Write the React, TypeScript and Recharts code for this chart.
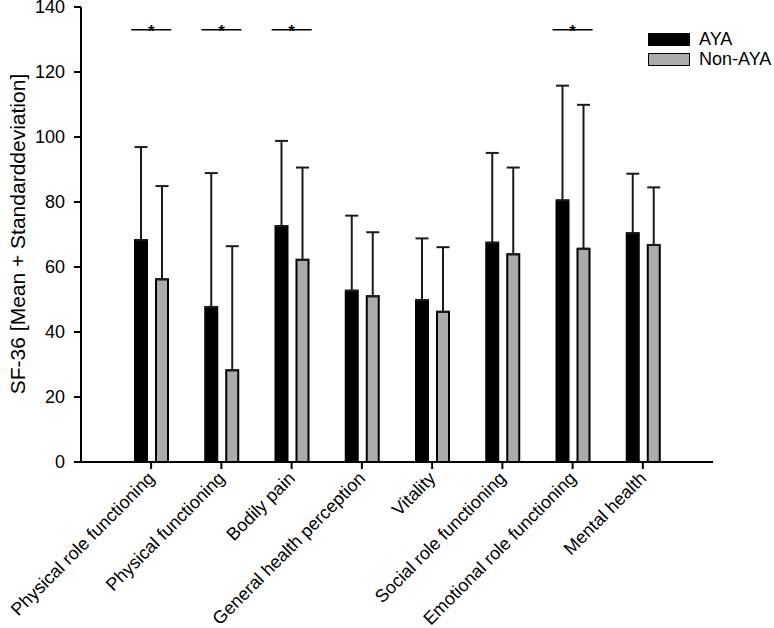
import {
  BarChart,
  Bar,
  XAxis,
  YAxis,
  ErrorBar,
  Legend,
  ReferenceLine
} from "recharts";

const categories = [
  "Physical role functioning",
  "Physical functioning",
  "Bodily pain",
  "General health perception",
  "Vitality",
  "Social role functioning",
  "Emotional role functioning",
  "Mental health"
];

const ayaMean = [68.3, 47.7, 72.6, 52.7, 49.8, 67.5, 80.5, 70.4];
const ayaSd = [28.6, 41.2, 26.2, 23.1, 19.0, 27.6, 35.3, 18.3];
const nonAyaMean = [56.2, 28.2, 62.2, 51.0, 46.2, 63.9, 65.6, 66.8];
const nonAyaSd = [28.7, 38.2, 28.4, 19.7, 19.9, 26.7, 44.3, 17.7];

// categories marked with * (p < 0.05)
const significant = [0, 1, 2, 6];
const sigLevel = 133;

const yTicks = [0, 20, 40, 60, 80, 100, 120, 140];

const data = categories.map((name, i) => ({
  name,
  pos: i + 1,
  aya: ayaMean[i],
  ayaErr: [0, ayaSd[i]],
  nonAya: nonAyaMean[i],
  nonAyaErr: [0, nonAyaSd[i]]
}));

const font = "'Liberation Sans', Arial, sans-serif";

const XTick = ({ x, y, payload }: any) => (
  <g transform={`translate(${x},${y + 4})`}>
    <text
      transform="rotate(-45)"
      textAnchor="end"
      dy="0.35em"
      fontSize={18}
      fontFamily={font}
      fill="#000"
    >
      {payload.value}
    </text>
  </g>
);

const YLabel = () => (
  <text
    x={25}
    y={234}
    transform="rotate(-90, 25, 234)"
    textAnchor="middle"
    fontSize={21}
    fontFamily={font}
    fill="#000"
  >
    SF-36 [Mean + Standarddeviation]
  </text>
);

const Star = ({ viewBox }: any) => (
  <text
    x={viewBox.x + viewBox.width / 2}
    y={viewBox.y + 7}
    textAnchor="middle"
    fontSize={17}
    fontWeight="bold"
    fontFamily={font}
    fill="#000"
  >
    *
  </text>
);

const LegendBox = ({ payload }: any) => (
  <div>
    {payload.map((item: any) => (
      <div
        key={item.value}
        style={{ display: "flex", alignItems: "center", height: 20 }}
      >
        <div
          style={{
            width: 40,
            height: 11,
            background: item.color,
            border: "1.5px solid #000",
            marginRight: 9
          }}
        />
        <span style={{ fontSize: 18, fontFamily: font, color: "#000" }}>
          {item.value}
        </span>
      </div>
    ))}
  </div>
);

export default function App() {
  return (
    <div style={{ position: "absolute", left: 0, top: 0 }}>
      <BarChart
        width={774}
        height={628}
        data={data}
        margin={{ top: 7, right: 61, left: 0, bottom: 0 }}
        barSize={12}
        barGap={9}
      >
        <XAxis
          dataKey="name"
          height={166}
          padding={{ left: 35, right: 35 }}
          interval={0}
          tickSize={7}
          axisLine={{ stroke: "#000", strokeWidth: 2 }}
          tickLine={{ stroke: "#000", strokeWidth: 2 }}
          tick={<XTick />}
        />
        <XAxis
          xAxisId="num"
          dataKey="pos"
          type="number"
          domain={[0, 9]}
          hide
        />
        <YAxis
          width={81}
          domain={[0, 140]}
          ticks={yTicks}
          interval={0}
          tickSize={7}
          tickMargin={9}
          axisLine={{ stroke: "#000", strokeWidth: 2 }}
          tickLine={{ stroke: "#000", strokeWidth: 2 }}
          tick={{ fontSize: 18, fontFamily: font, fill: "#000" }}
          label={<YLabel />}
        />
        <Legend
          layout="horizontal"
          verticalAlign="middle"
          align="center"
          wrapperStyle={{ top: 29, left: 648, width: 130 }}
          content={<LegendBox />}
        />
        <Bar
          dataKey="aya"
          name="AYA"
          fill="#000"
          stroke="#000"
          strokeWidth={2}
          isAnimationActive={false}
        >
          <ErrorBar
            dataKey="ayaErr"
            width={6.5}
            stroke="#1a1a1a"
            strokeWidth={2}
            direction="y"
          />
        </Bar>
        <Bar
          dataKey="nonAya"
          name="Non-AYA"
          fill="#ababab"
          stroke="#000"
          strokeWidth={2}
          isAnimationActive={false}
        >
          <ErrorBar
            dataKey="nonAyaErr"
            width={6.5}
            stroke="#1a1a1a"
            strokeWidth={2}
            direction="y"
          />
        </Bar>
        {significant.map((i) => (
          <ReferenceLine
            key={i}
            xAxisId="num"
            segment={[
              { x: i + 1 - 0.285, y: sigLevel },
              { x: i + 1 + 0.285, y: sigLevel }
            ]}
            stroke="#000"
            strokeWidth={1.5}
            label={<Star />}
          />
        ))}
      </BarChart>
    </div>
  );
}
